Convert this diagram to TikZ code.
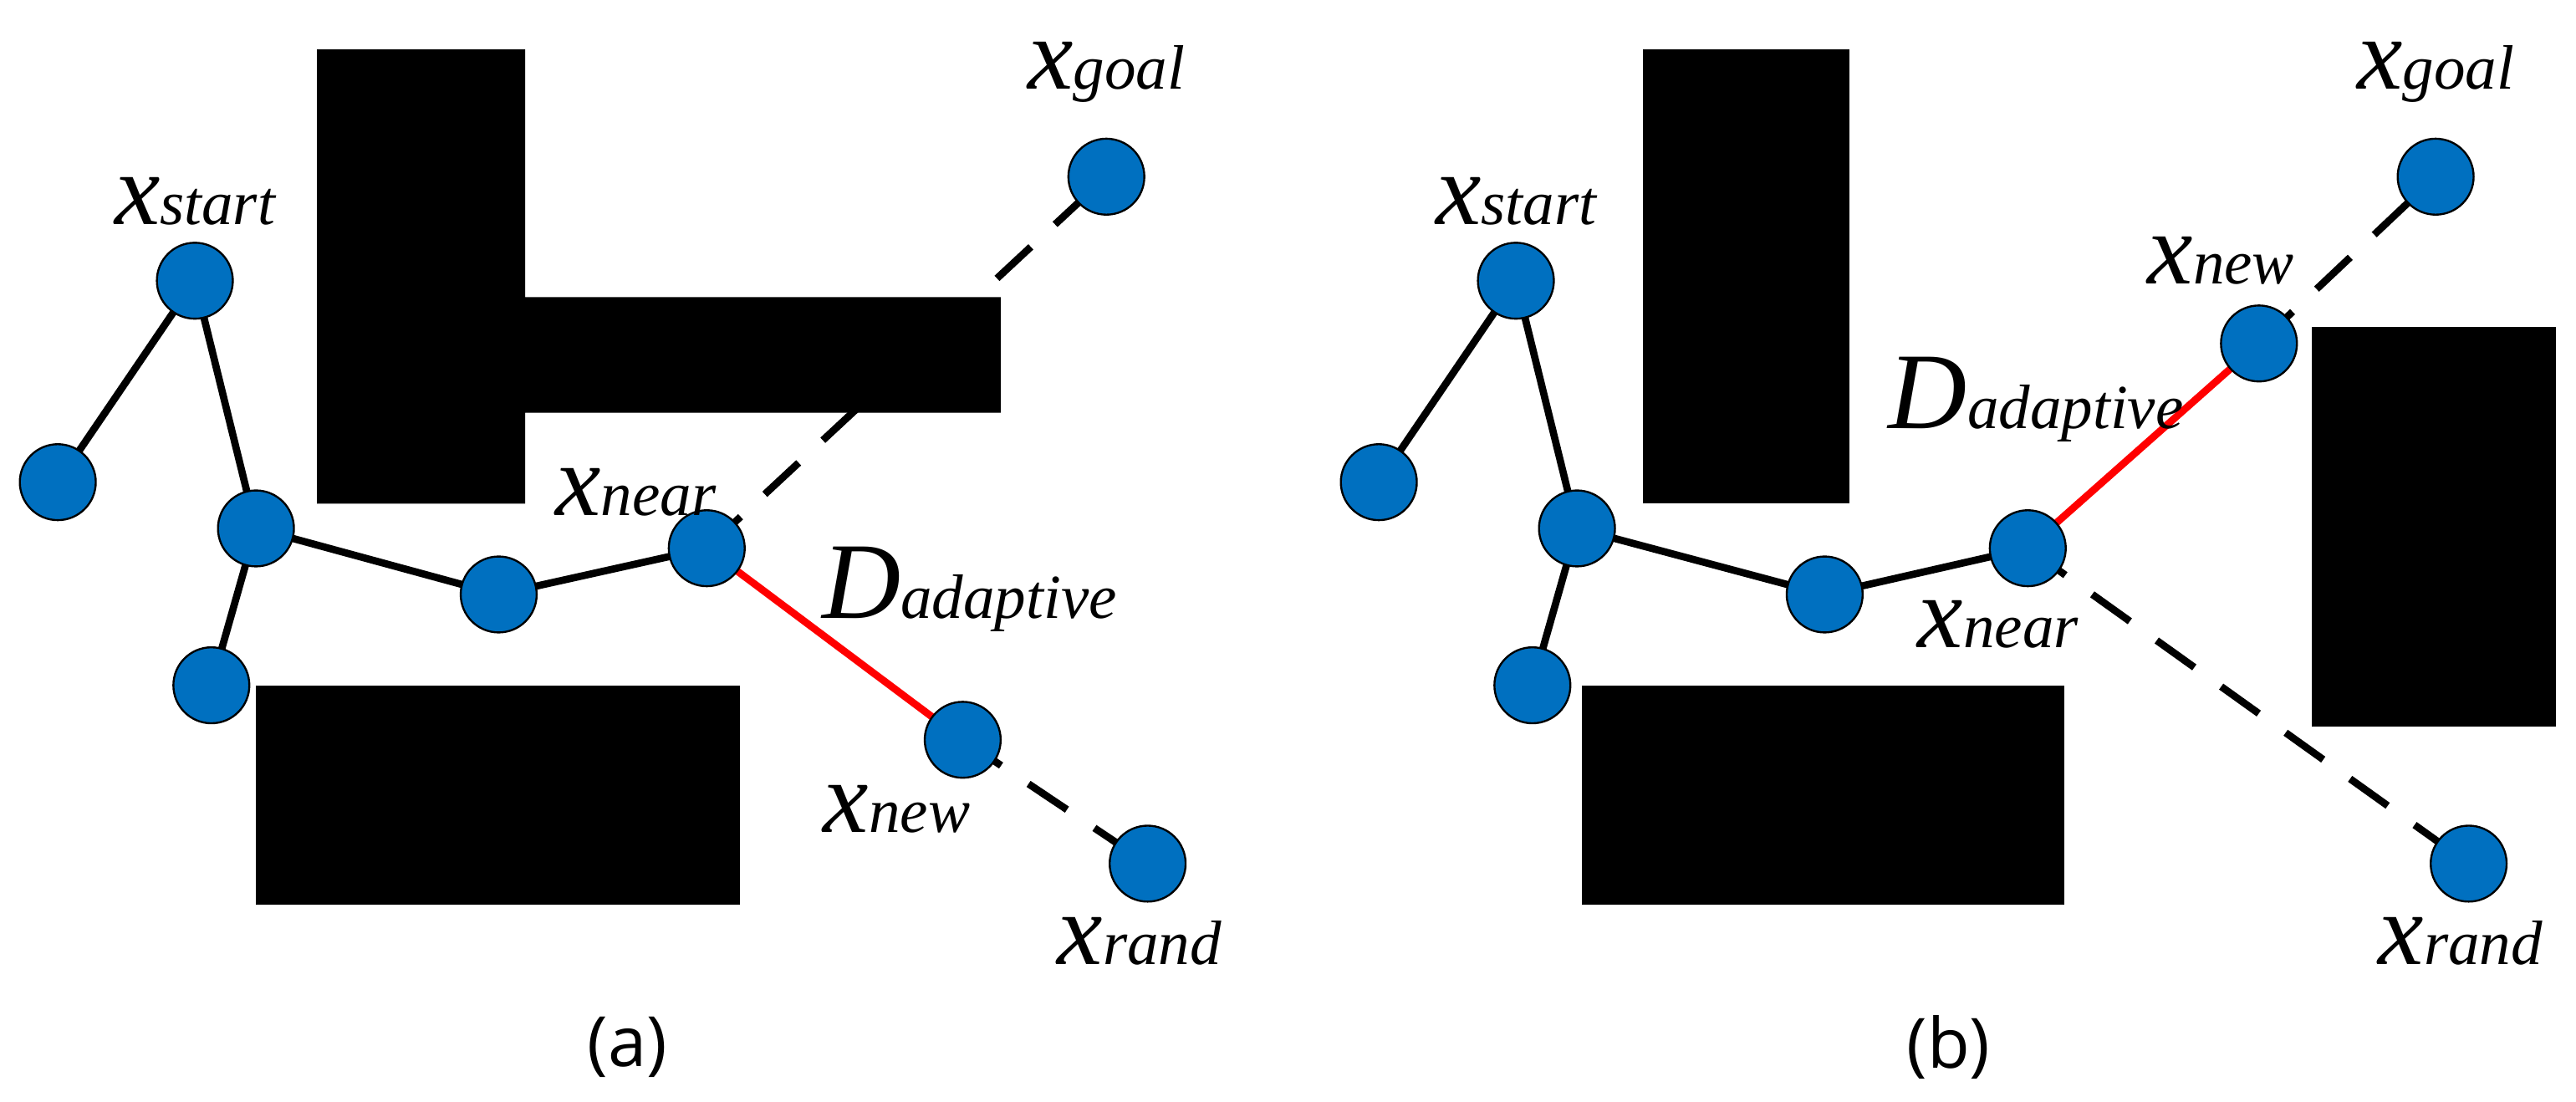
\documentclass[tikz,border=0pt]{standalone}
\usepackage{fontspec}
\setmainfont{Liberation Serif}
\newfontfamily\capfont{Open Sans}
\newcommand{\xl}[1]{{\fontsize{31}{31}\selectfont\itshape x}{\fontsize{19}{19}\selectfont\itshape #1}}
\newcommand{\dl}{{\fontsize{33}{33}\selectfont\itshape D}{\fontsize{19}{19}\selectfont\itshape adaptive}}
\begin{document}
\begin{tikzpicture}[x=0.5pt,y=-0.5pt,
  nd/.style={circle,draw=black,line width=0.6pt,fill={rgb,255:red,0;green,112;blue,192},minimum size=23pt,inner sep=0pt},
  edge/.style={line width=2.2pt,black},
  red edge/.style={line width=2.2pt,red},
  dsh/.style={line width=2.2pt,black,dash pattern=on 14pt off 10pt},
  obs/.style={fill=black,draw=none},
  lab/.style={inner sep=0pt,anchor=center},
  captext/.style={font=\capfont\fontsize{21}{21}\selectfont}]
\useasboundingbox (0,0) rectangle (1560,667);
% ---- panel (a)
\coordinate (a1) at (35,292); \coordinate (as) at (118,170); \coordinate (aa) at (155,320);
\coordinate (ab) at (128,415); \coordinate (ac) at (302,360); \coordinate (an) at (428,332);
\coordinate (aw) at (583,448); \coordinate (ar) at (695,523); \coordinate (ag) at (670,107);
\draw[dsh] (an) -- (ag);
\draw[dsh] (aw) -- (ar);
\draw[red edge] (an) -- (aw);
\draw[edge] (a1) -- (as) -- (aa) -- (ac) -- (an);
\draw[edge] (aa) -- (ab);
\fill[obs] (192,30) -- (318,30) -- (318,180) -- (606,180) -- (606,250) -- (318,250) -- (318,305) -- (192,305) -- cycle;
\fill[obs] (155,415) rectangle (448,548);
\foreach \p/\n in {a1/na1,as/nas,aa/naa,ab/nab,ac/nac,an/nan,aw/naw,ar/nar,ag/nag} \node[nd] (\n) at (\p) {};
\node[lab] (la1) at (118,122) {\xl{start}};
\node[lab] (la2) at (670,44) {\xl{goal}};
\node[lab] (la3) at (385,298) {\xl{near}};
\node[lab] (la4) at (587,357) {\dl};
\node[lab] (la5) at (543,490) {\xl{new}};
\node[lab] (la6) at (690,570) {\xl{rand}};
\node[captext] (ca) at (380,634) {(a)};
% ---- panel (b)
\coordinate (b1) at (835,292); \coordinate (bs) at (918,170); \coordinate (ba) at (955,320);
\coordinate (bb) at (928,415); \coordinate (bc) at (1105,360); \coordinate (bn) at (1228,332);
\coordinate (bw) at (1368,208); \coordinate (br) at (1495,523); \coordinate (bg) at (1475,107);
\draw[dsh] (bn) -- (br);
\draw[dsh] (bw) -- (bg);
\draw[red edge] (bn) -- (bw);
\draw[edge] (b1) -- (bs) -- (ba) -- (bc) -- (bn);
\draw[edge] (ba) -- (bb);
\fill[obs] (995,30) rectangle (1120,305);
\fill[obs] (958,415) rectangle (1250,548);
\fill[obs] (1400,198) rectangle (1548,440);
\foreach \p/\n in {b1/nb1,bs/nbs,ba/nba,bb/nbb,bc/nbc,bn/nbn,bw/nbw,br/nbr,bg/nbg} \node[nd] (\n) at (\p) {};
\node[lab] (lb1) at (918,122) {\xl{start}};
\node[lab] (lb2) at (1475,44) {\xl{goal}};
\node[lab] (lb3) at (1345,158) {\xl{new}};
\node[lab] (lb4) at (1233,242) {\dl};
\node[lab] (lb5) at (1210,378) {\xl{near}};
\node[lab] (lb6) at (1490,570) {\xl{rand}};
\node[captext] (cb) at (1180,634) {(b)};
\end{tikzpicture}
\end{document}
